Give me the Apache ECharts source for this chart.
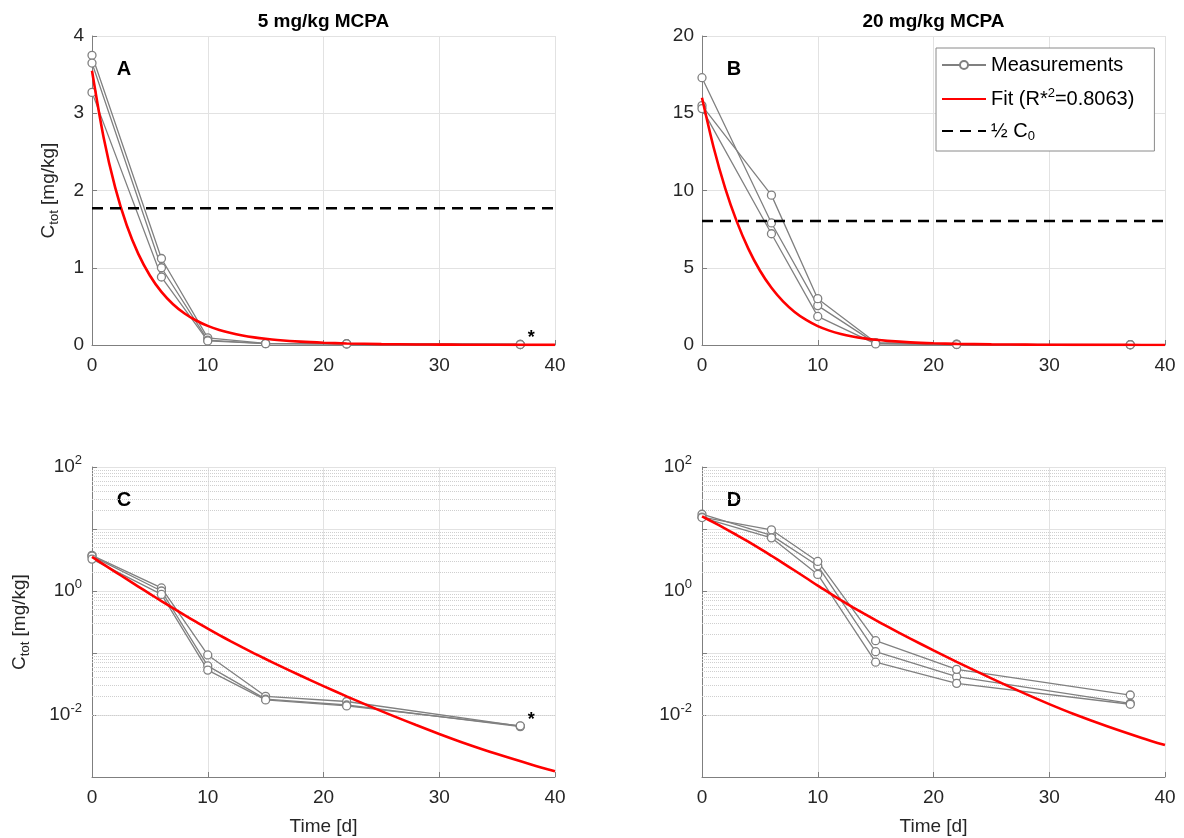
<!DOCTYPE html>
<html><head><meta charset="utf-8">
<script src="https://cdn.jsdelivr.net/npm/echarts@6/dist/echarts.min.js"></script>
<style>html,body{margin:0;padding:0;background:#fff}#c{width:1184px;height:838px}</style>
</head><body><div id="c"></div>
<script>
// ---- data ----
const days = [0, 6, 10, 15, 22, 37];
// 5 mg/kg MCPA, three replicates [mg/kg]
const low1 = [3.75, 1.12, 0.093, 0.020, 0.0165, 0.0066];
const low2 = [3.65, 1.00, 0.062, 0.018, 0.0145, 0.0065];
const low3 = [3.27, 0.88, 0.053, 0.0175, 0.0140, 0.0067];
// 20 mg/kg MCPA, three replicates [mg/kg]
const high1 = [17.3, 7.9, 2.55, 0.105, 0.0415, 0.0154];
const high2 = [15.5, 9.7, 3.00, 0.158, 0.0545, 0.0210];
const high3 = [15.3, 7.2, 1.85, 0.071, 0.0324, 0.0149];
// fitted curves
const fitDays = [0,1,2,3,4,5,6,7,8,9,10,11,12,13,14,15,16,18,20,22,25,28,30,32,35,38,40];
const fitLow  = [3.55,2.69,2.04,1.55,1.18,0.90,0.687,0.528,0.408,0.317,0.247,0.1945,0.154,0.123,0.0989,0.080,0.065,0.0434,0.0292,0.0200,0.01156,0.00689,0.00494,0.00361,0.00234,0.00158,0.00124];
const fitHigh = [16.0,12.8,10.16,8.0,6.24,4.82,3.70,2.82,2.14,1.62,1.22,0.931,0.713,0.551,0.430,0.338,0.268,0.171,0.110,0.0721,0.0390,0.0217,0.0150,0.0106,0.00659,0.00427,0.00327];
// half initial concentration
const halfLow = 1.77;
const halfHigh = 8.02;
// axes
const xRange = [0, 40];
const xInterval = 10;
const yRangeLow = [0, 4], yIntervalLow = 1;
const yRangeHigh = [0, 20], yIntervalHigh = 5;
const logRange = [0.001, 100];
const minorMantissas = [2,3,4,5,6,7,8,9];
const minorDecades = [0.001, 0.01, 0.1, 1, 10];
const titles = ['5 mg/kg MCPA', '20 mg/kg MCPA'];
const panelLetters = ['A', 'B', 'C', 'D'];

// ---- styling / layout ----
const FONT = '"Liberation Sans", Arial, Helvetica, sans-serif';
const GRAY = '#808080';
const AX = '#7f7f7f';
const TXT = '#262626';
const TICK_FS = 19;
const grids = [
  {left: 92, top: 36, width: 463, height: 309},
  {left: 702, top: 36, width: 463, height: 309},
  {left: 92, top: 467, width: 463, height: 310},
  {left: 702, top: 467, width: 463, height: 310}
];
const pairs = (xs, ys) => xs.map((x, i) => [x, ys[i]]);
const minorVals = [];
minorDecades.forEach(d => minorMantissas.forEach(m => minorVals.push(+(m * d).toPrecision(3))));

const xAxes = grids.map((g, i) => ({
  type: 'value', gridIndex: i, min: xRange[0], max: xRange[1], interval: xInterval,
  axisLine: {show: true, onZero: false, lineStyle: {color: AX, width: 1}},
  axisTick: {show: true, inside: true, length: 5, lineStyle: {color: AX}},
  axisLabel: {fontSize: TICK_FS, color: TXT, margin: 11, fontFamily: FONT},
  splitLine: {show: true, lineStyle: {color: '#e2e2e2', width: 1}},
  name: i >= 2 ? 'Time [d]' : '', nameLocation: 'middle', nameGap: 40,
  nameTextStyle: {fontSize: TICK_FS, color: TXT, fontFamily: FONT}
}));
const yName = '{a|C}{s|tot}{a| [mg/kg]}';
const yNameStyle = {color: TXT, fontFamily: FONT, rich: {
  a: {fontSize: TICK_FS, color: TXT, fontFamily: FONT, lineHeight: 24},
  s: {fontSize: 13, color: TXT, fontFamily: FONT, lineHeight: 13, verticalAlign: 'bottom'}
}};
const linY = (i, rng, itv, withName) => ({
  type: 'value', gridIndex: i, min: rng[0], max: rng[1], interval: itv,
  axisLine: {show: true, lineStyle: {color: AX, width: 1}},
  axisTick: {show: true, inside: true, length: 5, lineStyle: {color: AX}},
  axisLabel: {fontSize: TICK_FS, color: TXT, margin: 8, fontFamily: FONT},
  splitLine: {show: true, lineStyle: {color: '#e2e2e2', width: 1}},
  name: withName ? yName : '', nameLocation: 'middle', nameGap: 31, nameRotate: 90,
  nameTextStyle: yNameStyle
});
const logY = (i, withName) => ({
  type: 'log', logBase: 10, gridIndex: i, min: logRange[0], max: logRange[1], splitNumber: 5,
  axisLine: {show: true, lineStyle: {color: AX, width: 1}},
  axisTick: {show: true, inside: true, length: 5, lineStyle: {color: AX}},
  axisLabel: {margin: 10, fontFamily: FONT,
    formatter: v => {
      const l = Math.log10(v); const e = Math.round(l);
      if (Math.abs(l - e) > 1e-6 || e % 2 !== 0) return '';
      return '{b|10}{s|' + e + '}';
    },
    rich: {
      b: {fontSize: TICK_FS, color: TXT, fontFamily: FONT, lineHeight: 26},
      s: {fontSize: 13, color: TXT, fontFamily: FONT, lineHeight: 13, verticalAlign: 'top'}
    }},
  splitLine: {show: true, lineStyle: {color: '#e2e2e2', width: 1}},
  name: withName ? yName : '', nameLocation: 'middle', nameGap: 60, nameRotate: 90,
  nameTextStyle: yNameStyle
});
const yAxes = [
  linY(0, yRangeLow, yIntervalLow, true),
  linY(1, yRangeHigh, yIntervalHigh, false),
  logY(2, true),
  logY(3, false)
];

function meas(ys, g, extra) {
  return Object.assign({
    type: 'line', name: 'Measurements', xAxisIndex: g, yAxisIndex: g,
    data: pairs(days, ys), symbol: 'circle', symbolSize: 8, showSymbol: true,
    lineStyle: {color: GRAY, width: 1.3},
    itemStyle: {color: '#ffffff', borderColor: GRAY, borderWidth: 1.3},
    z: 3, silent: true
  }, extra || {});
}
function fit(ys, g) {
  return {type: 'line', name: 'Fit', xAxisIndex: g, yAxisIndex: g,
    data: pairs(fitDays, ys), symbol: 'none', showSymbol: false, smooth: 0.3,
    lineStyle: {color: '#ff0000', width: 2.6}, itemStyle: {color: '#ff0000'}, z: 4, silent: true};
}
function half(v, g) {
  return {type: 'line', name: 'Half', xAxisIndex: g, yAxisIndex: g,
    data: [[xRange[0], v], [xRange[1], v]], symbol: 'none', showSymbol: false,
    lineStyle: {color: '#000000', width: 2.5, type: [11, 7]}, itemStyle: {color: '#000000'}, z: 4, silent: true};
}
function minorGrid(g) {
  return {type: 'line', name: 'minor', xAxisIndex: g, yAxisIndex: g, data: [], silent: true, z: 1,
    markLine: {silent: true, z: 1, symbol: 'none', animation: false, label: {show: false},
      lineStyle: {color: '#cfcfcf', type: [1, 1], width: 1},
      emphasis: {disabled: true},
      data: minorVals.map(v => ({yAxis: v}))}};
}
const star = (ys) => ({markPoint: {symbol: 'circle', symbolSize: 0, silent: true,
  data: [{coord: [days[days.length - 1], ys[ys.length - 1]]}],
  label: {show: true, formatter: '*', offset: [11, -6], fontSize: 18, fontWeight: 'bold', color: '#000', fontFamily: FONT}}});

const series = [
  minorGrid(2), minorGrid(3),
  meas(low1, 0, star(low1)), meas(low2, 0), meas(low3, 0), fit(fitLow, 0), half(halfLow, 0),
  meas(high1, 1), meas(high2, 1), meas(high3, 1), fit(fitHigh, 1), half(halfHigh, 1),
  meas(low1, 2, star(low1)), meas(low2, 2), meas(low3, 2), fit(fitLow, 2),
  meas(high1, 3), meas(high2, 3), meas(high3, 3), fit(fitHigh, 3)
];

const legendLabels = {
  'Measurements': '{t|Measurements}',
  'Fit': '{t|Fit (R*}{p|2}{t|=0.8063)}',
  'Half': '{t|½ C}{b|0}'
};
const hiddenSymbol = {color: 'rgba(0,0,0,0)', borderColor: 'rgba(0,0,0,0)', borderWidth: 0, opacity: 0};

const graphics = [];
titles.forEach((t, i) => graphics.push({type: 'text', x: grids[i].left + grids[i].width / 2, y: 22,
  style: {text: t, font: 'bold 19px ' + FONT, fill: '#000', textAlign: 'center', textVerticalAlign: 'middle', align: 'center', verticalAlign: 'middle'}}));
panelLetters.forEach((t, i) => graphics.push({type: 'text', x: grids[i].left + 32, y: grids[i].top + 33,
  style: {text: t, font: 'bold 20px ' + FONT, fill: '#000', textAlign: 'center', textVerticalAlign: 'middle', align: 'center', verticalAlign: 'middle'}}));

const option = {
  animation: false,
  backgroundColor: '#ffffff',
  grid: grids,
  xAxis: xAxes,
  yAxis: yAxes,
  legend: {
    data: [
      {name: 'Measurements'},
      {name: 'Fit', itemStyle: hiddenSymbol},
      {name: 'Half', itemStyle: hiddenSymbol}
    ],
    orient: 'vertical', left: 936, top: 48,
    padding: [7, 20, 8, 5], itemGap: 12, itemWidth: 44, itemHeight: 10,
    borderColor: '#8a8a8a', borderWidth: 1, backgroundColor: '#ffffff',
    selectedMode: false,
    formatter: n => legendLabels[n],
    textStyle: {fontFamily: FONT, color: '#000', rich: {
      t: {fontSize: 20, color: '#000', fontFamily: FONT, lineHeight: 24},
      p: {fontSize: 13, color: '#000', fontFamily: FONT, lineHeight: 13, verticalAlign: 'top'},
      b: {fontSize: 13, color: '#000', fontFamily: FONT, lineHeight: 13, verticalAlign: 'bottom'}
    }}
  },
  graphic: graphics,
  series: series
};
const chart = echarts.init(document.getElementById('c'), null, {renderer: 'canvas'});
chart.setOption(option);
</script></body></html>
